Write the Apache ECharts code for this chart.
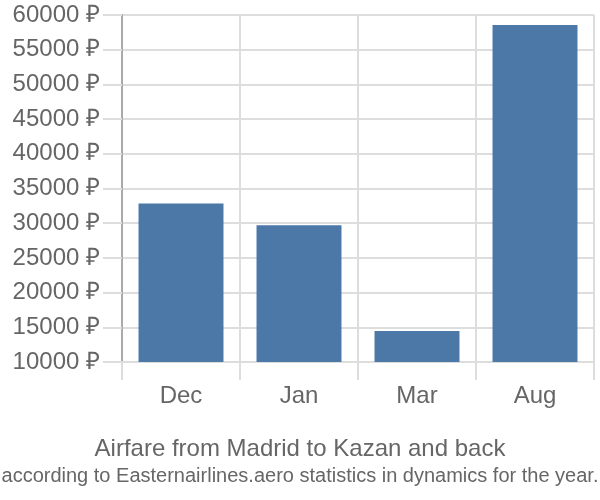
<!DOCTYPE html>
<html><head><meta charset="utf-8">
<script src="https://cdn.jsdelivr.net/npm/echarts@6/dist/echarts.min.js"></script>
<style>html,body{margin:0;padding:0;background:#fff}#c{width:600px;height:500px}</style>
</head><body><div id="c"></div>
<script>
const categories = ["Dec", "Jan", "Mar", "Aug"];
const prices = [32850, 29700, 14450, 58550];
const yMin = 10000, yMax = 60000, yStep = 5000;
const titleText = "Airfare from Madrid to Kazan and back";
const subtitleText = "according to Easternairlines.aero statistics in dynamics for the year.";

const chart = echarts.init(document.getElementById('c'), null, {renderer: 'canvas'});
chart.setOption({
  animation: false,
  title: {
    text: titleText,
    subtext: subtitleText,
    left: 'center',
    top: 432,
    itemGap: 5,
    textStyle: {fontFamily: 'Liberation Sans', fontSize: 24, fontWeight: 'normal', color: '#666'},
    subtextStyle: {fontFamily: 'Liberation Sans', fontSize: 20, color: '#666'}
  },
  grid: {left: 122, right: 6, top: 15, bottom: 138},
  xAxis: {
    type: 'category',
    data: categories,
    boundaryGap: true,
    axisLine: {show: true, lineStyle: {color: '#ddd', width: 2}},
    axisTick: {show: true, length: 18, lineStyle: {color: '#ddd', width: 2}},
    splitLine: {show: true, lineStyle: {color: '#ddd', width: 2}},
    axisLabel: {fontFamily: 'Liberation Sans', fontSize: 24, color: '#666', margin: 22}
  },
  yAxis: {
    type: 'value',
    min: yMin, max: yMax, interval: yStep,
    axisLine: {show: true, lineStyle: {color: '#aaa', width: 2}},
    axisTick: {show: true, length: 19, lineStyle: {color: '#ddd', width: 2}},
    splitLine: {show: true, lineStyle: {color: '#ddd', width: 2}},
    axisLabel: {fontFamily: 'Liberation Sans', fontSize: 24, color: '#666', margin: 22,
      formatter: v => v + ' ₽'}
  },
  series: [{
    type: 'bar',
    data: prices,
    barWidth: '72%',
    itemStyle: {color: '#4c78a8'}
  }]
});
</script></body></html>
